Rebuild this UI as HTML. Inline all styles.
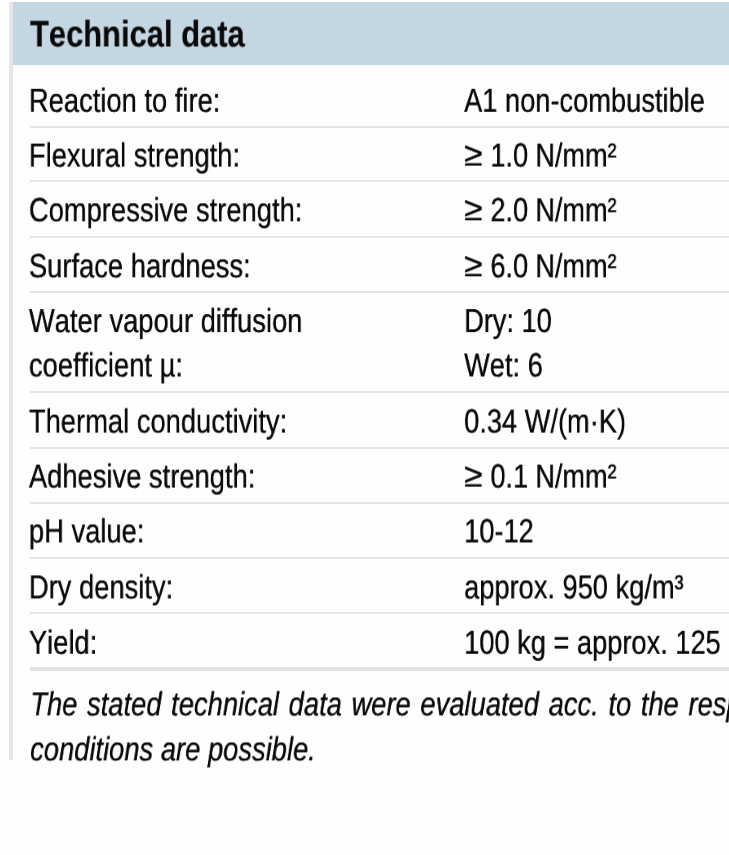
<!DOCTYPE html>
<html lang="en">
<head>
<meta charset="utf-8">
<title>Technical data</title>
<style>
html,body{margin:0;padding:0;background:#fefefe;overflow:hidden;}
body{width:729px;height:855px;}
#page{width:729px;height:855px;position:relative;overflow:hidden;background:#fefefe;font-family:"Liberation Sans",Arial,Helvetica,sans-serif;color:#0a0a0a;font-variant-ligatures:none;font-kerning:none;text-rendering:geometricPrecision;}
.t{position:absolute;white-space:nowrap;line-height:1;transform-origin:0 0;will-change:transform;font-size:33.5px;text-shadow:0.25px 0 0 #0a0a0a;}
.h{position:absolute;white-space:nowrap;line-height:1;transform-origin:0 0;will-change:transform;font-size:37.0px;font-weight:bold;margin:0;-webkit-text-stroke:0.2px #0a0a0a;}
.i{font-style:italic;text-shadow:0.25px 0 0 #0a0a0a;}
.ge{display:inline-block;transform:translateY(-1.2px) scaleX(1.235);transform-origin:0 50%;margin-right:5.0px;}
.ln{position:absolute;left:30px;right:0;height:2px;background:#e4e4e4;}
.band{position:absolute;left:12.6px;top:2.3px;right:0;height:62.3px;background:#c5d6e3;}
.lb{position:absolute;left:9.1px;top:2.3px;width:3.7px;height:757.4px;background:#e6e6e6;}
</style>
</head>
<body>
<div id="page">
<div class="lb"></div>
<div class="band"></div>

<h1 class="h" style="left:30px;top:15px;transform:translate(0.00px,0.50px) scaleX(0.8350);">Technical data</h1>
<div class="t" style="left:28px;top:84px;transform:translate(0.80px,0.80px) scaleX(0.8160);">Reaction to fire:</div>
<div class="t" style="left:464px;top:84px;transform:translate(0.00px,0.80px) scaleX(0.8130);">A1 non-combustible</div>
<div class="t" style="left:28px;top:139px;transform:translate(0.80px,0.60px) scaleX(0.8160);">Flexural strength:</div>
<div class="t" style="left:464px;top:139px;transform:translate(0.00px,0.60px) scaleX(0.8060);"><span class="ge">≥</span> 1.0 N/mm²</div>
<div class="t" style="left:28px;top:194px;transform:translate(0.80px,0.30px) scaleX(0.8160);">Compressive strength:</div>
<div class="t" style="left:464px;top:194px;transform:translate(0.00px,0.30px) scaleX(0.8060);"><span class="ge">≥</span> 2.0 N/mm²</div>
<div class="t" style="left:28px;top:250px;transform:translate(0.80px,0.30px) scaleX(0.8160);">Surface hardness:</div>
<div class="t" style="left:464px;top:250px;transform:translate(0.00px,0.30px) scaleX(0.8060);"><span class="ge">≥</span> 6.0 N/mm²</div>
<div class="t" style="left:28px;top:305px;transform:translate(0.80px,0.10px) scaleX(0.8160);">Water vapour diffusion</div>
<div class="t" style="left:464px;top:305px;transform:translate(0.00px,0.10px) scaleX(0.8130);">Dry: 10</div>
<div class="t" style="left:28px;top:349px;transform:translate(0.80px,0.50px) scaleX(0.8160);">coefficient µ:</div>
<div class="t" style="left:464px;top:349px;transform:translate(0.00px,0.50px) scaleX(0.8130);">Wet: 6</div>
<div class="t" style="left:28px;top:405px;transform:translate(0.80px,0.60px) scaleX(0.8160);">Thermal conductivity:</div>
<div class="t" style="left:464px;top:405px;transform:translate(0.00px,0.60px) scaleX(0.8130);">0.34 W/(m·K)</div>
<div class="t" style="left:28px;top:460px;transform:translate(0.80px,0.60px) scaleX(0.8160);">Adhesive strength:</div>
<div class="t" style="left:464px;top:460px;transform:translate(0.00px,0.60px) scaleX(0.8060);"><span class="ge">≥</span> 0.1 N/mm²</div>
<div class="t" style="left:28px;top:515px;transform:translate(0.80px,0.40px) scaleX(0.8160);">pH value:</div>
<div class="t" style="left:464px;top:515px;transform:translate(0.00px,0.40px) scaleX(0.8130);">10-12</div>
<div class="t" style="left:28px;top:571px;transform:translate(0.80px,0.40px) scaleX(0.8160);">Dry density:</div>
<div class="t" style="left:464px;top:571px;transform:translate(0.00px,0.40px) scaleX(0.8130);">approx. 950 kg/m³</div>
<div class="t" style="left:28px;top:626px;transform:translate(0.80px,0.80px) scaleX(0.8160);">Yield:</div>
<div class="t" style="left:464px;top:626px;transform:translate(0.00px,0.80px) scaleX(0.8130);">100 kg = approx. 125 l</div>
<div class="ln" style="top:125.50px"></div>
<div class="ln" style="top:180.40px"></div>
<div class="ln" style="top:236.20px"></div>
<div class="ln" style="top:291.30px"></div>
<div class="ln" style="top:391.10px"></div>
<div class="ln" style="top:446.70px"></div>
<div class="ln" style="top:501.60px"></div>
<div class="ln" style="top:557.10px"></div>
<div class="ln" style="top:612.20px"></div>
<div class="ln" style="top:667.30px;height:3.4px;background:#e2e2e2"></div>
<div class="t i" style="left:30px;top:688px;transform:translate(0.20px,0.40px) scaleX(0.8160);word-spacing:2.5px">The stated technical data were evaluated acc. to the respective standards. Deviations under site</div>
<div class="t i" style="left:30px;top:733px;transform:translate(0.00px,0.40px) scaleX(0.8160);">conditions are possible.</div>
</div>
</body>
</html>
